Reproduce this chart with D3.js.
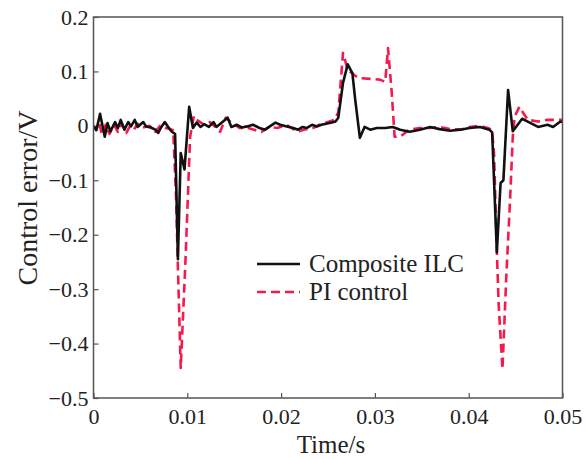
<!DOCTYPE html>
<html>
<head>
<meta charset="utf-8">
<script src="https://cdn.jsdelivr.net/npm/d3@7"></script>
<style>
  html, body { margin: 0; padding: 0; background: #fff; }
  svg { display: block; }
</style>
</head>
<body>
<svg id="chart" width="586" height="459"></svg>
<script>
// Time axis (s) and tick labels
const xTicks = [0, 0.01, 0.02, 0.03, 0.04, 0.05];
const xTickLabels = ["0", "0.01", "0.02", "0.03", "0.04", "0.05"];
const yTicks = [-0.5, -0.4, -0.3, -0.2, -0.1, 0, 0.1, 0.2];
const yTickLabels = ["\u22120.5", "\u22120.4", "\u22120.3", "\u22120.2", "\u22120.1", "0", "0.1", "0.2"];

const seriesNames = ["Composite ILC", "PI control"];

// Composite ILC control error
const timeILC = [
  0.0000, 0.0003, 0.0007, 0.0012, 0.0015, 0.0018, 0.0023, 0.0026, 0.0029, 0.0033,
  0.0037, 0.0040, 0.0044, 0.0047, 0.0053, 0.0056, 0.0061, 0.0066, 0.0069, 0.0072,
  0.0076, 0.0080, 0.0083, 0.0087, 0.0090, 0.0093, 0.0097, 0.0102, 0.0106, 0.0110,
  0.0114, 0.0118, 0.0123, 0.0128, 0.0131, 0.0143, 0.0147, 0.0153, 0.0158, 0.0164,
  0.0170, 0.0177, 0.0183, 0.0188, 0.0194, 0.0199, 0.0206, 0.0213, 0.0218, 0.0223,
  0.0227, 0.0233, 0.0238, 0.0243, 0.0248, 0.0254, 0.0258, 0.0261, 0.0266, 0.0271,
  0.0276, 0.0279, 0.0284, 0.0289, 0.0295, 0.0302, 0.0311, 0.0319, 0.0327, 0.0337,
  0.0348, 0.0359, 0.0369, 0.0380, 0.0391, 0.0401, 0.0412, 0.0422, 0.0425, 0.0430,
  0.0434, 0.0437, 0.0442, 0.0447, 0.0457, 0.0465, 0.0474, 0.0484, 0.0490, 0.0497,
  0.0500
];
const errILC = [
  0.000, -0.008, 0.022, -0.020, 0.005, -0.010, 0.007, -0.004, 0.011, -0.007,
  0.007, -0.001, 0.011, -0.002, 0.007, -0.001, -0.003, -0.007, -0.013, -0.003,
  0.007, -0.003, -0.010, -0.015, -0.245, -0.050, -0.080, 0.035, -0.004, 0.006,
  -0.002, 0.003, -0.002, 0.007, -0.002, 0.015, -0.002, 0.002, -0.003, -0.001,
  0.002, -0.004, -0.007, -0.001, 0.006, 0.002, -0.001, -0.004, -0.007, -0.002,
  -0.004, 0.002, -0.001, 0.002, 0.004, 0.006, 0.008, 0.015, 0.079, 0.113,
  0.097, 0.048, -0.022, -0.002, -0.007, -0.004, -0.004, -0.002, -0.007, -0.011,
  -0.007, -0.002, -0.006, -0.009, -0.007, -0.004, -0.002, -0.007, -0.012, -0.232,
  -0.105, -0.100, 0.066, -0.010, 0.013, 0.006, -0.002, 0.002, -0.002, 0.007,
  0.008
];

// PI control error
const timePI = [
  0.0000, 0.0003, 0.0006, 0.0009, 0.0013, 0.0017, 0.0022, 0.0026, 0.0030, 0.0035,
  0.0039, 0.0043, 0.0047, 0.0051, 0.0060, 0.0066, 0.0071, 0.0077, 0.0082, 0.0085,
  0.0088, 0.0090, 0.0093, 0.0098, 0.0103, 0.0107, 0.0110, 0.0118, 0.0124, 0.0130,
  0.0135, 0.0141, 0.0147, 0.0156, 0.0165, 0.0179, 0.0187, 0.0196, 0.0206, 0.0217,
  0.0224, 0.0234, 0.0241, 0.0250, 0.0257, 0.0261, 0.0266, 0.0271, 0.0282, 0.0305,
  0.0311, 0.0314, 0.0318, 0.0321, 0.0327, 0.0332, 0.0337, 0.0348, 0.0358, 0.0369,
  0.0380, 0.0391, 0.0401, 0.0412, 0.0422, 0.0425, 0.0427, 0.0430, 0.0432, 0.0436,
  0.0440, 0.0444, 0.0447, 0.0449, 0.0454, 0.0458, 0.0463, 0.0474, 0.0484, 0.0500
];
const errPI = [
  -0.002, -0.007, 0.007, -0.017, 0.002, -0.015, 0.002, -0.011, 0.004, -0.013,
  0.000, -0.007, 0.004, -0.004, 0.000, -0.011, 0.000, -0.004, -0.006, -0.008,
  -0.130, -0.260, -0.445, -0.250, -0.020, 0.018, 0.011, 0.002, 0.007, -0.002,
  -0.011, 0.015, 0.006, -0.004, -0.004, -0.011, -0.002, -0.004, 0.002, -0.011,
  -0.007, -0.004, 0.002, 0.007, 0.011, 0.025, 0.134, 0.103, 0.088, 0.085,
  0.081, 0.143, 0.060, -0.020, -0.020, -0.013, -0.007, -0.004, -0.004, -0.002,
  -0.006, -0.007, -0.002, 0.000, -0.005, -0.010, -0.050, -0.230, -0.330, -0.447,
  -0.280, -0.140, -0.020, 0.017, 0.035, 0.024, 0.011, 0.008, 0.011, 0.011
];

const FONT = "font-family:'Liberation Serif'";

const svg = d3.select("#chart");
const plot = { left: 93.5, right: 562.5, top: 17, bottom: 398 };

const x = d3.scaleLinear().domain([0, 0.05]).range([plot.left, plot.right]);
const y = d3.scaleLinear().domain([-0.5, 0.2]).range([plot.bottom, plot.top]);

svg.append("defs").append("clipPath").attr("id", "plotClip")
  .append("rect")
  .attr("x", plot.left).attr("y", plot.top)
  .attr("width", plot.right - plot.left).attr("height", plot.bottom - plot.top);

// Axes with inward ticks
const xAxis = d3.axisBottom(x)
  .tickValues(xTicks)
  .tickFormat((d, i) => xTickLabels[i])
  .tickSizeInner(-5).tickSizeOuter(0).tickPadding(10);
const yAxis = d3.axisLeft(y)
  .tickValues(yTicks)
  .tickFormat((d, i) => yTickLabels[i])
  .tickSizeInner(-5).tickSizeOuter(0).tickPadding(5);

const gx = svg.append("g").attr("transform", `translate(0,${plot.bottom})`).call(xAxis);
const gy = svg.append("g").attr("transform", `translate(${plot.left},0)`).call(yAxis);
[gx, gy].forEach(g => {
  g.attr("font-family", null).attr("font-size", null);
  g.select(".domain").remove();
  g.selectAll(".tick line").attr("stroke", "#555").attr("stroke-width", 1.2);
  g.selectAll(".tick text")
    .attr("style", FONT)
    .attr("font-size", 22).attr("fill", "#222");
});

// Series lines
const line = d3.line().x(d => x(d[0])).y(d => y(d[1]));
const dataPI = timePI.map((t, i) => [t, errPI[i]]);
const dataILC = timeILC.map((t, i) => [t, errILC[i]]);

const lines = svg.append("g").attr("clip-path", "url(#plotClip)");
lines.append("path").datum(dataPI)
  .attr("d", line).attr("fill", "none")
  .attr("stroke", "#f51a4c").attr("stroke-width", 2.6)
  .attr("stroke-dasharray", "9,5").attr("stroke-linejoin", "round");
lines.append("path").datum(dataILC)
  .attr("d", line).attr("fill", "none")
  .attr("stroke", "#111").attr("stroke-width", 2.6)
  .attr("stroke-linejoin", "round");

// Frame
svg.append("rect")
  .attr("x", plot.left).attr("y", plot.top)
  .attr("width", plot.right - plot.left).attr("height", plot.bottom - plot.top)
  .attr("fill", "none").attr("stroke", "#555").attr("stroke-width", 1.5);

// Axis titles
svg.append("text")
  .attr("x", 331).attr("y", 453)
  .attr("text-anchor", "middle").attr("font-size", 25)
  .attr("style", FONT).attr("fill", "#222")
  .text("Time/s");
svg.append("text")
  .attr("transform", "translate(37,198) rotate(-90)")
  .attr("text-anchor", "middle").attr("font-size", 28)
  .attr("style", FONT).attr("fill", "#222")
  .text("Control error/V");

// Legend
const legend = svg.append("g");
const legendStyles = [
  { stroke: "#111", dash: null, y: 264 },
  { stroke: "#f51a4c", dash: "9,5", y: 292 }
];
seriesNames.forEach((name, i) => {
  const s = legendStyles[i];
  legend.append("line")
    .attr("x1", 257).attr("x2", 300).attr("y1", s.y).attr("y2", s.y)
    .attr("stroke", s.stroke).attr("stroke-width", 2.6)
    .attr("stroke-dasharray", s.dash);
  legend.append("text")
    .attr("x", 309).attr("y", s.y + 8)
    .attr("font-size", 25)
    .attr("style", FONT).attr("fill", "#222")
    .text(name);
});
</script>
</body>
</html>
